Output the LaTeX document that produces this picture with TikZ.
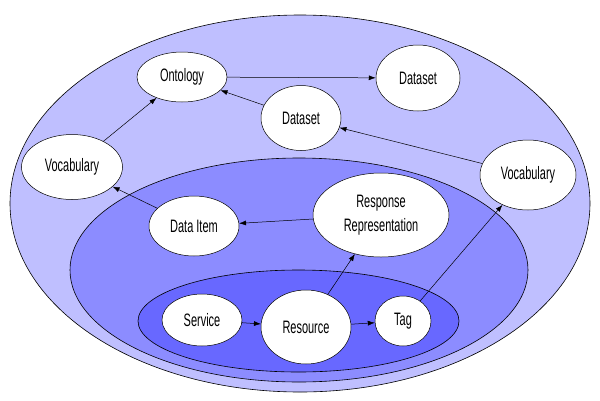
\documentclass[tikz,border=0pt]{standalone}
\usepackage{fontspec}
\setmainfont[FakeStretch=0.61]{Liberation Sans}
\usepackage{xcolor}
\usetikzlibrary{shapes,arrows.meta}
\definecolor{ringout}{RGB}{191,191,255}
\definecolor{ringmid}{RGB}{140,140,255}
\definecolor{ringin}{RGB}{104,104,255}
\tikzset{concept/.style={ellipse,draw,fill=white,line width=0.5pt,inner sep=0pt,align=center}}
\tikzset{link/.style={-{Latex[length=7pt,width=5pt]},line width=0.5pt}}

\begin{document}
\begin{tikzpicture}[x=1pt,y=-1pt,font=\fontsize{18}{24}\selectfont]
\useasboundingbox (0,0) rectangle (600,400);
\draw[fill=ringout,line width=0.6pt] (300,203.5) ellipse [x radius=290pt,y radius=188.5pt];
\draw[fill=ringmid,line width=0.6pt] (299,270) ellipse [x radius=229pt,y radius=112pt];
\draw[fill=ringin,line width=0.6pt] (298.5,321) ellipse [x radius=160.5pt,y radius=51pt];
\node[concept,minimum width=90pt,minimum height=50pt] (onto) at (182,77) {Ontology};
\node[concept,minimum width=84pt,minimum height=66pt] (dsout) at (418,78) {Dataset};
\node[concept,minimum width=80pt,minimum height=65pt] (dsin) at (301,118) {Dataset};
\node[concept,minimum width=101pt,minimum height=65pt] (vocleft) at (72,167) {Vocabulary};
\node[concept,minimum width=96pt,minimum height=70pt] (vocright) at (528,175) {Vocabulary};
\node[concept,minimum width=90pt,minimum height=60pt] (item) at (194,226) {Data Item};
\node[concept,minimum width=136pt,minimum height=84pt] (resp) at (381,215) {Response\\Representation};
\node[concept,minimum width=80pt,minimum height=52pt] (serv) at (202,320) {Service};
\node[concept,minimum width=90pt,minimum height=74pt] (res) at (306,327) {Resource};
\node[concept,minimum width=56pt,minimum height=50pt] (tag) at (403,321) {Tag};
\draw[link] (onto) -- (dsout);
\draw[link] (dsin) -- (onto);
\draw[link] (vocright) -- (dsin);
\draw[link] (vocleft) -- (onto);
\draw[link] (item) -- (vocleft);
\draw[link] (resp) -- (item);
\draw[link] (serv) -- (res);
\draw[link] (res) -- (tag);
\draw[link] (res) -- (resp);
\draw[link] (tag) -- (vocright);
\end{tikzpicture}
\end{document}
